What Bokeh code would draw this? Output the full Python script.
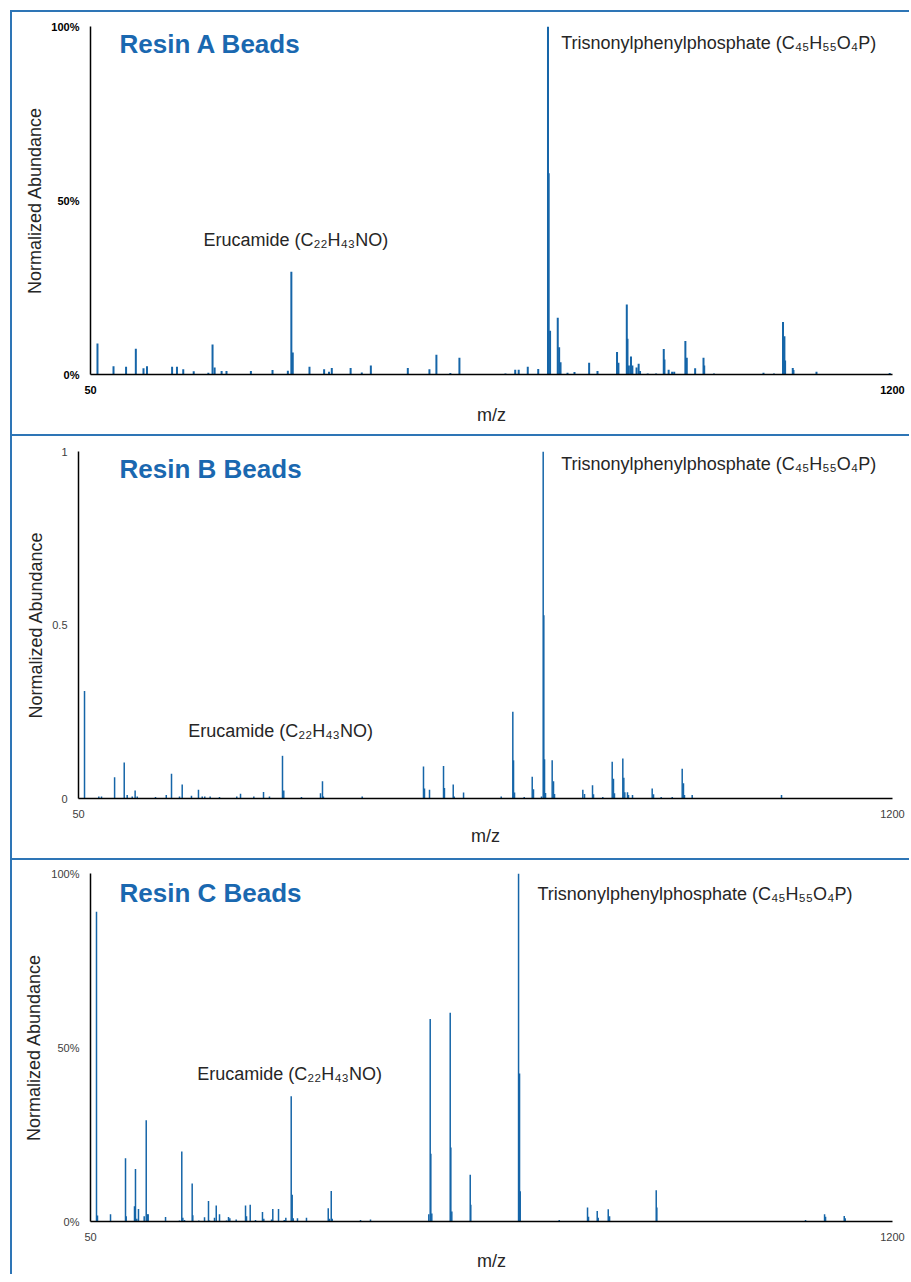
from bokeh.plotting import figure
from bokeh.models import Range1d, FixedTicker, Label, ColumnDataSource
from bokeh.embed import file_html
from bokeh.resources import INLINE

# ---------------- data ----------------
panel_titles = ["Resin A Beads", "Resin B Beads", "Resin C Beads"]
label_eru = "Erucamide (C₂₂H₄₃NO)"
label_tnpp = "Trisnonylphenylphosphate (C₄₅H₅₅O₄P)"
x_ticks = [50, 1200]

# Resin A (% abundance)
mz_a = [60, 83, 101, 115, 126, 131, 167, 174, 183, 198, 219, 225, 228, 238, 245, 280, 311, 333,
        338, 340, 364, 385, 392, 396, 423, 439, 452, 505, 536, 546, 566, 579, 645, 659, 664, 677,
        692, 706, 707, 709, 720, 722, 724, 734, 744, 765, 777, 805, 807, 819, 820, 822, 825, 827,
        833, 836, 838, 849, 861, 872, 873, 879, 884, 887, 903, 905, 917, 929, 930, 944, 1015, 1030,
        1043, 1045, 1046, 1057, 1058, 1091, 1196]
ab_a = [8.9, 2.4, 2.2, 7.4, 1.8, 2.4, 2.2, 2.2, 1.5, 0.9, 0.5, 8.6, 2.0, 1.0, 1.0, 1.0, 1.3, 1.1,
        29.5, 6.3, 2.2, 1.5, 0.8, 1.9, 1.9, 0.6, 2.6, 1.9, 1.5, 5.7, 0.4, 4.8, 0.3, 1.4, 1.4, 2.2,
        1.6, 100.0, 57.8, 12.6, 16.3, 7.8, 3.5, 0.5, 0.7, 3.4, 1.0, 6.5, 3.4, 20.1, 10.3, 2.6, 5.2, 2.6,
        2.0, 3.1, 1.0, 0.3, 0.3, 7.3, 4.3, 1.4, 0.8, 0.8, 9.6, 4.8, 1.8, 4.8, 2.6, 0.3, 0.5, 0.3,
        15.1, 11.0, 4.0, 1.9, 1.3, 0.8, 0.4]

# Resin B (fraction)
mz_b = [58.5, 78.7, 82.5, 101, 114.6, 118.8, 125.9, 130, 133, 158.8, 174, 181.4, 192.7, 196.5,
        209.6, 219.5, 224.8, 228.4, 236, 249.2, 273.6, 278.9, 297.7, 311.4, 319.8, 338.2, 340, 365,
        391.9, 394.7, 396, 450.8, 537.4, 538.8, 545.9, 565.7, 567, 579.4, 580.8, 594, 647.2, 663.6,
        664.6, 666, 679.7, 691, 692.8, 704.1, 706.5, 707.4, 708.4, 709.8, 719.2, 721.1, 722.5, 762.5,
        764.9, 776.2, 777.6, 790.7, 804, 805.8, 807.2, 819, 820.4, 821.8, 825.6, 827, 832.7, 860.5,
        862.4, 873.2, 888.8, 902.9, 904.7, 906.1, 917, 1043.2]
ab_b = [0.31, 0.006, 0.006, 0.061, 0.104, 0.01, 0.006, 0.023, 0.006, 0.004, 0.01, 0.071, 0.006, 0.04,
        0.008, 0.025, 0.006, 0.006, 0.006, 0.004, 0.006, 0.014, 0.006, 0.019, 0.006, 0.123, 0.023, 0.004,
        0.015, 0.05, 0.006, 0.006, 0.092, 0.029, 0.025, 0.094, 0.03, 0.04, 0.006, 0.017, 0.006, 0.25,
        0.11, 0.017, 0.004, 0.063, 0.027, 0.006, 1.0, 0.528, 0.113, 0.016, 0.11, 0.05, 0.013, 0.025,
        0.013, 0.038, 0.012, 0.004, 0.106, 0.057, 0.015, 0.115, 0.06, 0.018, 0.018, 0.01, 0.01, 0.029,
        0.012, 0.004, 0.004, 0.086, 0.044, 0.01, 0.01, 0.01]

# Resin C (% abundance)
mz_c = [58.6, 60, 78.7, 100.2, 101.2, 113.1, 114.5, 116.4, 118.8, 127, 129.9, 131.7, 132.7, 157.6,
        177.6, 180.9, 182.4, 184.8, 195.8, 196.7, 205.3, 213.5, 219.2, 220.6, 227.8, 230.3, 235, 245,
        247.9, 249.8, 258.9, 272.3, 273.7, 279, 286.6, 296.6, 298.5, 309.6, 311.4, 319.6, 327.8, 330.1,
        337.8, 339.2, 340.7, 346.8, 359.7, 390.9, 392.7, 395.2, 396.6, 437.2, 451.5, 535.1, 537.1, 538,
        539.4, 565.8, 566.7, 568.1, 594.5, 595.3, 663.8, 665.2, 666.2, 722.1, 762.7, 764.1, 776.6, 778,
        792.4, 794.3, 861.2, 862.1, 1075.3, 1102.6, 1104, 1130.8, 1132.2]
ab_c = [89.0, 1.7, 2.1, 18.2, 1.5, 4.4, 15.1, 0.8, 3.6, 1.5, 29.1, 2.1, 2.1, 1.3,
        0.3, 20.1, 1.1, 0.4, 10.9, 1.8, 0.3, 1.2, 5.9, 0.3, 1.1, 4.6, 2.1, 0.3,
        1.3, 0.9, 0.6, 4.6, 1.5, 4.8, 0.4, 2.7, 0.8, 0.6, 3.6, 3.6, 0.4, 1.1,
        36.0, 7.7, 0.9, 0.9, 1.1, 3.8, 0.8, 8.8, 0.8, 0.4, 0.6, 2.1, 58.2, 19.5,
        2.3, 60.0, 21.3, 2.9, 13.4, 4.8, 100.0, 42.5, 8.7, 0.4, 4.0, 1.4, 3.0, 1.1,
        3.5, 1.5, 9.0, 4.0, 0.4, 2.1, 1.4, 1.6, 0.9]

# ---------------- style ----------------
FONT = "Liberation Sans"
BLUE = "#1565a8"
TITLE_BLUE = "#1a68b0"
BORDER = "#2e75b6"
TXT = "#262626"


def make_panel(mz, ab, ymax, yticks, ylabels, title, eru_xy, tnpp_xy, title_xy,
               height, mb_left, mb_top, mb_bottom, bold_ticks, tick_color, lw,
               ylab_standoff, xlab_standoff, top_margin):
    p = figure(width=899, height=height, x_range=Range1d(50, 1200), y_range=Range1d(0, ymax),
               output_backend="svg", toolbar_location=None,
               min_border_left=mb_left, min_border_right=19,
               min_border_top=mb_top, min_border_bottom=mb_bottom)
    p.outline_line_color = None
    p.xgrid.visible = False
    p.ygrid.visible = False
    p.background_fill_color = "white"
    p.border_fill_color = "white"
    st = {"border-top": "2px solid " + BORDER, "border-left": "2px solid " + BORDER,
          "margin-left": "10px"}
    if top_margin:
        st["margin-top"] = "%dpx" % top_margin
    p.styles = st

    src = ColumnDataSource(dict(x=mz, y=ab, y0=[0] * len(mz)))
    p.segment(x0="x", y0="y0", x1="x", y1="y", source=src, line_color=BLUE, line_width=lw)

    for ax in (p.xaxis[0], p.yaxis[0]):
        ax.axis_line_color = "black"
        ax.axis_line_width = 1.5
        ax.major_tick_line_color = None
        ax.minor_tick_line_color = None
        ax.major_tick_out = 0
        ax.major_tick_in = 0
        ax.minor_tick_out = 0
        ax.minor_tick_in = 0
        ax.major_label_text_font = FONT
        ax.major_label_text_font_size = "11px"
        ax.major_label_text_font_style = "bold" if bold_ticks else "normal"
        ax.major_label_text_color = tick_color
        ax.axis_label_text_font = FONT
        ax.axis_label_text_font_size = "18px"
        ax.axis_label_text_font_style = "normal"
        ax.axis_label_text_color = TXT

    p.xaxis.ticker = FixedTicker(ticks=x_ticks)
    p.xaxis.axis_label = "m/z"
    p.xaxis.major_label_standoff = 11
    p.xaxis.axis_label_standoff = xlab_standoff

    p.yaxis.ticker = FixedTicker(ticks=yticks)
    p.yaxis.major_label_overrides = {t: l for t, l in zip(yticks, ylabels)}
    p.yaxis.axis_label = "Normalized Abundance"
    p.yaxis.major_label_standoff = 11
    p.yaxis.axis_label_standoff = ylab_standoff

    p.add_layout(Label(x=title_xy[0], y=title_xy[1], text=title, text_font=FONT,
                       text_font_size="26px", text_font_style="bold", text_color=TITLE_BLUE,
                       text_align="left", text_baseline="middle"))
    p.add_layout(Label(x=eru_xy[0], y=eru_xy[1], text=label_eru, text_font=FONT,
                       text_font_size="18px", text_color=TXT,
                       text_align="left", text_baseline="middle"))
    p.add_layout(Label(x=tnpp_xy[0], y=tnpp_xy[1], text=label_tnpp, text_font=FONT,
                       text_font_size="18px", text_color=TXT,
                       text_align="left", text_baseline="middle"))
    return p


pa = make_panel(mz_a, ab_a, 100, [0, 50, 100], ["0%", "50%", "100%"], panel_titles[0],
                (212, 38.6), (725, 95.3), (91.6, 95.1),
                height=424, mb_left=78, mb_top=14, mb_bottom=62,
                bold_ticks=True, tick_color="black", lw=2,
                ylab_standoff=3, xlab_standoff=8, top_margin=10)
pb = make_panel(mz_b, ab_b, 1.0, [0, 0.5, 1], ["0", "0.5", "1"], panel_titles[1],
                (205, 0.195), (732, 0.964), (108, 0.950),
                height=424, mb_left=66, mb_top=15, mb_bottom=62,
                bold_ticks=False, tick_color="#404040", lw=1.5,
                ylab_standoff=3, xlab_standoff=5, top_margin=0)
pc = make_panel(mz_c, ab_c, 100, [0, 50, 100], ["0%", "50%", "100%"], panel_titles[2],
                (203, 42.4), (691, 94.1), (91.6, 94.3),
                height=416, mb_left=78, mb_top=13, mb_bottom=55,
                bold_ticks=False, tick_color="#404040", lw=1.5,
                ylab_standoff=4, xlab_standoff=7, top_margin=0)

open("out.html", "w").write(file_html([pa, pb, pc], INLINE))
